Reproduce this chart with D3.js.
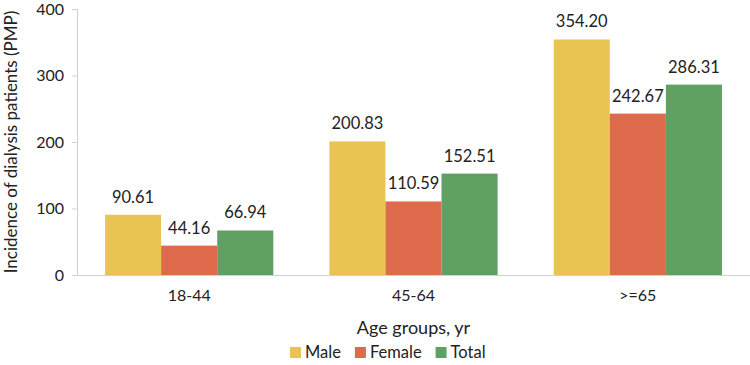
<!DOCTYPE html>
<html><head><meta charset="utf-8">
<script src="https://cdn.jsdelivr.net/npm/d3@7"></script>
<style>body{margin:0;background:#fff}svg{display:block}text{font-family:Lato,"Open Sans",sans-serif}</style>
</head><body><svg id="c" width="750" height="365"></svg>
<script>
const categories = ["18-44", "45-64", ">=65"];
const seriesNames = ["Male", "Female", "Total"];
const male = [90.61, 200.83, 354.20];
const female = [44.16, 110.59, 242.67];
const total = [66.94, 152.51, 286.31];
const yTicks = [0, 100, 200, 300, 400];
const colors = ["#E9C452", "#DD6A4B", "#60A063"];

const seriesVals = [male, female, total];
const svg = d3.select("#c");
const m = {l: 77, r: 0, t: 9, b: 90};
const W = 750, H = 365;
const x0 = d3.scaleBand().domain(categories).range([m.l, W - m.r]).paddingInner(0.25).paddingOuter(0.125);
const x1 = d3.scaleBand().domain(seriesNames).range([0, x0.bandwidth()]);
const y = d3.scaleLinear().domain([0, 400]).range([H - m.b, m.t]);

// y axis
const ya = svg.append("g").attr("transform", `translate(${m.l},0)`)
  .call(d3.axisLeft(y).tickValues(yTicks).tickSize(5).tickPadding(8));
ya.select(".domain").attr("stroke", "#d0d0d0");
ya.selectAll(".tick line").attr("stroke", "#d0d0d0");
ya.selectAll("text").attr("font-size", 16).attr("fill", "#222");

// x axis
const xa = svg.append("g").attr("transform", `translate(0,${y(0)})`)
  .call(d3.axisBottom(x0).tickSize(0).tickPadding(15));
xa.select(".domain").attr("stroke", "#d0d0d0");
xa.selectAll("text").attr("font-size", 16).attr("fill", "#222");

const groups = svg.append("g").selectAll("g").data(categories).join("g")
  .attr("transform", d => `translate(${x0(d)},0)`);
groups.each(function(cat, ci) {
  const g = d3.select(this);
  seriesNames.forEach((s, si) => {
    const v = seriesVals[si][ci];
    g.append("rect").attr("x", x1(s)).attr("width", x1.bandwidth())
      .attr("y", y(v)).attr("height", y(0) - y(v)).attr("fill", colors[si]);
    g.append("text").attr("x", x1(s) + x1.bandwidth() / 2).attr("y", y(v) - 12)
      .attr("text-anchor", "middle").attr("font-size", 16.5).attr("fill", "#222")
      .text(v.toFixed(2));
  });
});

// axis titles
svg.append("text").attr("transform", `translate(17,${(y(0) + y(400)) / 2}) rotate(-90)`)
  .attr("text-anchor", "middle").attr("font-size", 17).attr("fill", "#222")
  .text("Incidence of dialysis patients (PMP)");
svg.append("text").attr("x", (x0.range()[0] + x0.range()[1]) / 2).attr("y", 334)
  .attr("text-anchor", "middle").attr("font-size", 18).attr("fill", "#222")
  .text("Age groups, yr");

// legend
const lg = svg.append("g").attr("transform", "translate(290,358)");
let lx = 0;
seriesNames.forEach((s, i) => {
  const it = lg.append("g").attr("transform", `translate(${lx},0)`);
  it.append("rect").attr("x", 0).attr("y", -11).attr("width", 11).attr("height", 11).attr("fill", colors[i]);
  const t = it.append("text").attr("x", 15).attr("y", 0)
    .attr("font-size", 16.5).attr("fill", "#222").text(s);
  lx += 15 + t.node().getComputedTextLength() + 14;
});
</script></body></html>
